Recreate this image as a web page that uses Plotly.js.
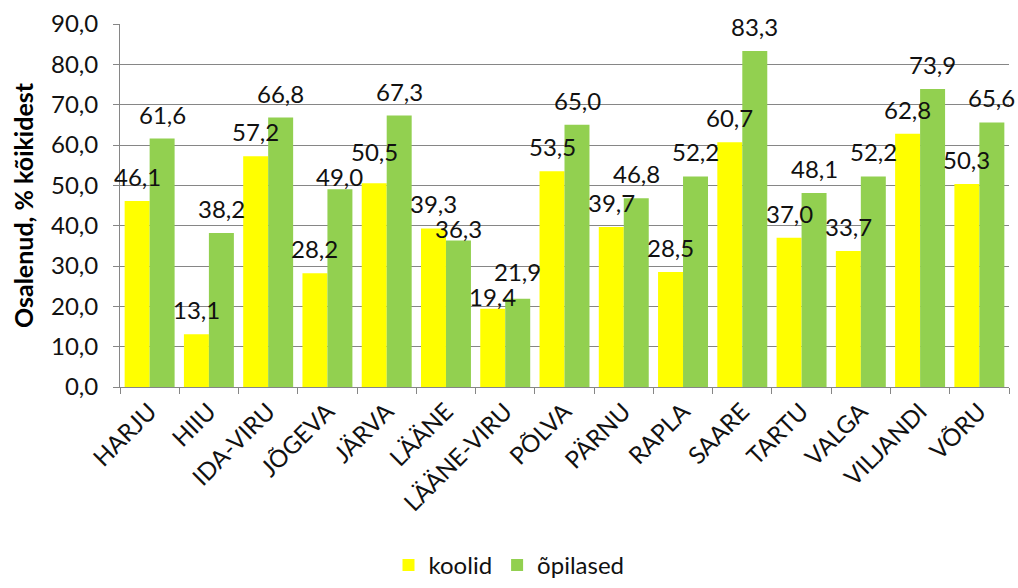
<!DOCTYPE html>
<html><head><meta charset="utf-8">
<script src="https://cdn.plot.ly/plotly-3.0.1.min.js"></script>
<style>html,body{margin:0;padding:0;background:#fff}#chart{width:1018px;height:588px}</style>
</head><body><div id="chart"></div>
<script>
const categories = ["HARJU","HIIU","IDA-VIRU","JÕGEVA","JÄRVA","LÄÄNE","LÄÄNE-VIRU","PÕLVA","PÄRNU","RAPLA","SAARE","TARTU","VALGA","VILJANDI","VÕRU"];
const koolid = [46.1,13.1,57.2,28.2,50.5,39.3,19.4,53.5,39.7,28.5,60.7,37.0,33.7,62.8,50.3];
const opilased = [61.6,38.2,66.8,49.0,67.3,36.3,21.9,65.0,46.8,52.2,83.3,48.1,52.2,73.9,65.6];
const yTicks = [0,10,20,30,40,50,60,70,80,90];

const font = "Lato, 'Open Sans', sans-serif";
const txtColor = '#111111';
const W = 1018, H = 588;
const margin = {l:120, r:9, t:24, b:201};
const yRange = [0, 90];

const traces = [
 {type:'bar', name:'koolid', x:categories, y:koolid, marker:{color:'#FFFF00'}, hoverinfo:'none'},
 {type:'bar', name:'õpilased', x:categories, y:opilased, marker:{color:'#92D050'}, hoverinfo:'none'}
];
function fmt(v){ return v.toFixed(1).replace('.', ','); }

// value labels: centred over each bar, nudged apart vertically where neighbours collide
const pxPerUnit = (H - margin.t - margin.b) / (yRange[1] - yRange[0]);
const DEFAULT_OFF = 15, MIN_OFF = 3, SEP = 25, DESC = 7;
const labels = [];
categories.forEach((c, i) => {
  labels.push({cat:c, v:koolid[i], shift:-12.5, off:DEFAULT_OFF});
  labels.push({cat:c, v:opilased[i], shift:12.5, off:DEFAULT_OFF});
});
function base(l){ return -l.v * pxPerUnit - l.off; } // baseline y (relative px, smaller = higher)
for (let k = 0; k < labels.length - 1; k++) {
  const a = labels[k], b = labels[k+1];
  const diff = Math.abs(base(a) - base(b));
  if (diff < SEP) {
    const hi = base(a) < base(b) ? a : b;
    const lo = hi === a ? b : a;
    let need = SEP - diff;
    const canDown = Math.max(0, lo.off - MIN_OFF);
    const d = Math.min(need, canDown);
    lo.off -= d; need -= d;
    hi.off += need;
  }
}
const annotations = labels.map(l => ({x:l.cat, y:l.v, xref:'x', yref:'y', text:fmt(l.v), showarrow:false,
  xanchor:'center', yanchor:'bottom', xshift:l.shift, yshift:l.off - DESC,
  font:{family:font, size:24, color:txtColor}}));

const layout = {
 width:W, height:H,
 margin:margin,
 separators:', ',
 barmode:'group', bargap:0.157, bargroupgap:0,
 paper_bgcolor:'#fff', plot_bgcolor:'#fff',
 font:{family:font, size:24, color:txtColor},
 showlegend:true,
 annotations:annotations,
 legend:{orientation:'h', x:0.5, xanchor:'center', xref:'container', y:-0.008, yanchor:'bottom', yref:'container',
   font:{family:font, size:24, color:txtColor}},
 xaxis:{type:'category', automargin:false, range:[-0.5, categories.length - 0.5], tickangle:-45, showgrid:false,
   showline:true, linecolor:'#868686', linewidth:1,
   ticks:'outside', ticklen:6, tickcolor:'#868686', tickson:'boundaries',
   tickfont:{family:font, size:24, color:txtColor}},
 yaxis:{range:yRange, automargin:false, tickvals:yTicks, tickformat:'.1f', showgrid:true, gridcolor:'#868686', gridwidth:1,
   showline:true, linecolor:'#868686', linewidth:1, ticks:'outside', ticklen:6, tickcolor:'#868686',
   ticklabelstandoff:10,
   zeroline:false, tickfont:{family:font, size:24, color:txtColor},
   title:{text:'<b>Osalenud, % kõikidest</b>', font:{family:font, size:25, color:'#000'}, standoff:10}}
};
Plotly.newPlot('chart', traces, layout, {displayModeBar:false});
</script></body></html>
